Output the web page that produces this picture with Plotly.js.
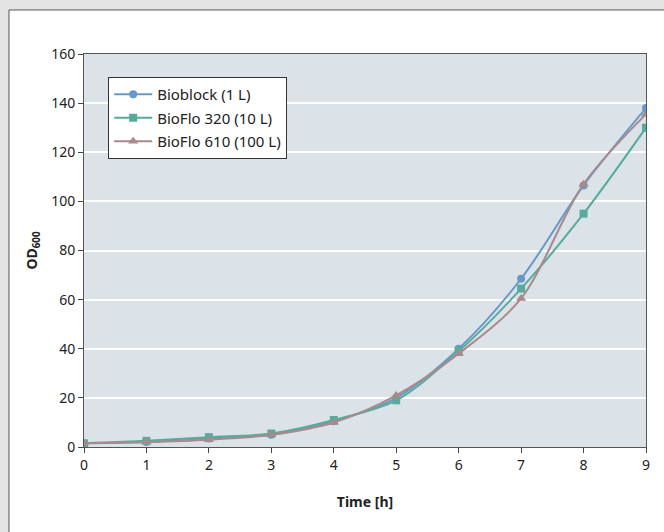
<!DOCTYPE html>
<html><head><meta charset="utf-8">
<script src="https://cdn.plot.ly/plotly-3.0.1.min.js"></script>
<style>html,body{margin:0;padding:0;background:#ffffff;}#chart{width:664px;height:532px;}</style>
</head><body><div id="chart"></div>
<script>
const hours = [0,1,2,3,4,5,6,7,8,9];
const bioblock = [1.5,2,3.5,5,10.5,20,40,68.5,106.5,138];
const bioflo320 = [1.5,2.5,4,5.5,11,19,39,64.5,95,130];
const bioflo610 = [1.5,2,3,5,10,21,38,60.5,107,135.5];
const seriesNames = ['Bioblock (1 L)','BioFlo 320 (10 L)','BioFlo 610 (100 L)'];
const yTicks = [0,20,40,60,80,100,120,140,160];

const font = 'Noto Sans, Open Sans, sans-serif';
function tr(y, name, color, symbol, size, grp){
  return {x: hours, y: y, name: name, type:'scatter', mode:'lines+markers', legendgroup:grp,
    line:{color: color, width:2, shape:'spline', smoothing:0.9},
    marker:{color: color, symbol: symbol, size: size}};
}
const data = [
  tr(bioblock, seriesNames[0], '#6699c9', 'circle', 8, 'a'),
  tr(bioflo320, seriesNames[1], '#58ab9c', 'square', 8, 'b'),
  tr(bioflo610, seriesNames[2], '#a98a8c', 'triangle-up', 9, 'c')
];
const gray = '#e4e4e4';
const layout = {
  width:664, height:532,
  margin:{l:84, r:18, t:54, b:85},
  paper_bgcolor:'#ffffff',
  plot_bgcolor:'#dbe3e8',
  font:{family:font, size:14, color:'#222'},
  showlegend:true,
  legend:{x:0.043, y:0.9415, xanchor:'left', yanchor:'top', bgcolor:'#ffffff',
    bordercolor:'#333', borderwidth:1, font:{family:font, size:15, color:'#222'},
    tracegroupgap:1, itemwidth:38},
  shapes:[
    {type:'rect', xref:'paper', yref:'paper', x0:-0.16, x1:-0.1335, y0:-0.4, y1:1.2,
      fillcolor:gray, line:{width:0}, layer:'below'},
    {type:'rect', xref:'paper', yref:'paper', x0:-0.16, x1:1.2, y0:1.112, y1:1.2,
      fillcolor:gray, line:{width:0}, layer:'below'},
    {type:'line', xref:'paper', yref:'paper', x0:-0.1335, x1:-0.1335, y0:-0.4, y1:1.112,
      line:{color:'#555', width:1}, layer:'below'},
    {type:'line', xref:'paper', yref:'paper', x0:-0.1335, x1:1.2, y0:1.112, y1:1.112,
      line:{color:'#555', width:1}, layer:'below'}
  ],
  xaxis:{range:[0,9], tickvals:hours, ticks:'outside', ticklen:5, tickcolor:'#444',
    showgrid:false, zeroline:false, showline:true, linecolor:'#555', linewidth:1, mirror:true,
    tickfont:{size:14}, title:{text:'<b>Time [h]</b>', font:{size:14}, standoff:24}},
  yaxis:{range:[0,160], tickvals:yTicks, ticks:'outside', ticklen:5, tickcolor:'#444',
    showgrid:true, gridcolor:'#ffffff', gridwidth:1.5, zeroline:false,
    showline:true, linecolor:'#555', linewidth:1, mirror:true,
    tickfont:{size:14}, title:{text:'<b>OD<sub>600</sub></b>', font:{size:14}, standoff:10}}
};
Plotly.newPlot('chart', data, layout, {displayModeBar:false});
</script></body></html>
